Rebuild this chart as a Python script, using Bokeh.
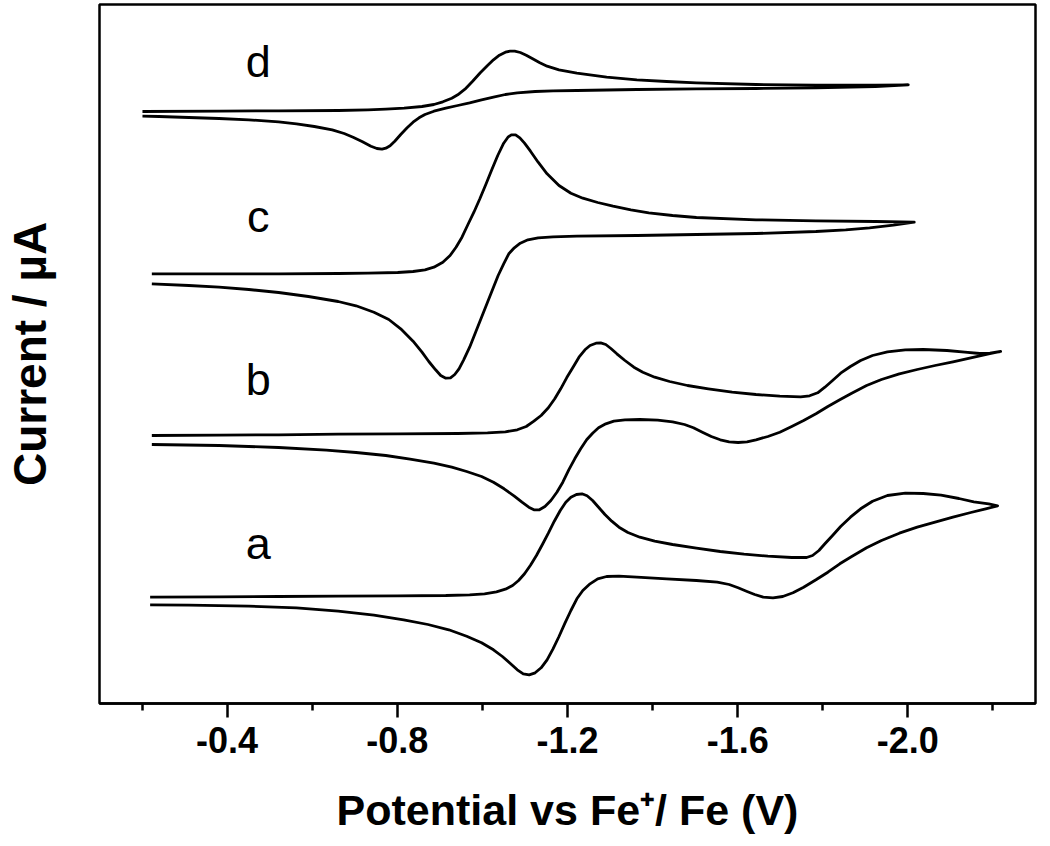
from bokeh.plotting import figure
from bokeh.models import Range1d, FixedTicker, CustomJSTickFormatter, ColumnDataSource
from bokeh.core.properties import value
from bokeh.embed import file_html
from bokeh.resources import INLINE

# ---- data: potential (V vs Fe+/Fe) and current (arbitrary, offset per trace) ----
a_potential = [-0.219, -0.381, -0.521, -0.661, -0.801, -0.914, -0.970, -1.005, -1.033, -1.054, -1.071, -1.085,
               -1.099, -1.113, -1.127, -1.141, -1.155, -1.169, -1.183, -1.196, -1.208, -1.221, -1.234, -1.246,
               -1.259, -1.273, -1.288, -1.304, -1.321, -1.342, -1.370, -1.405, -1.447, -1.503, -1.559, -1.615,
               -1.671, -1.727, -1.762, -1.776, -1.791, -1.805, -1.823, -1.842, -1.865, -1.889, -1.917, -1.952,
               -1.994, -2.036, -2.078, -2.120, -2.155, -2.190, -2.211,
               -2.183, -2.148, -2.106, -2.064, -2.022, -1.980, -1.938, -1.903, -1.868, -1.840, -1.812, -1.784,
               -1.755, -1.730, -1.706, -1.683, -1.660, -1.640, -1.622, -1.601, -1.580, -1.552, -1.503, -1.433,
               -1.363, -1.321, -1.292, -1.271, -1.253, -1.236, -1.222, -1.208, -1.194, -1.180, -1.166, -1.152,
               -1.138, -1.124, -1.110, -1.096, -1.082, -1.065, -1.047, -1.026, -0.998, -0.963, -0.921, -0.872,
               -0.815, -0.745, -0.661, -0.563, -0.451, -0.310, -0.219]
a_current = [10.63, 10.67, 10.70, 10.73, 10.77, 10.80, 10.87, 10.97, 11.17, 11.43, 11.80, 12.30,
             12.97, 13.83, 14.80, 15.90, 17.03, 18.23, 19.30, 20.13, 20.63, 20.90, 20.97, 20.77,
             20.30, 19.63, 18.90, 18.23, 17.63, 17.10, 16.63, 16.23, 15.90, 15.53, 15.20, 14.93,
             14.73, 14.60, 14.60, 14.80, 15.30, 15.97, 16.80, 17.70, 18.63, 19.47, 20.23, 20.80,
             21.03, 21.00, 20.83, 20.50, 20.17, 19.97, 19.77,
             19.47, 19.10, 18.63, 18.13, 17.63, 17.03, 16.30, 15.57, 14.70, 13.97, 13.13, 12.37,
             11.63, 11.07, 10.70, 10.57, 10.63, 10.90, 11.20, 11.57, 11.90, 12.13, 12.30, 12.47,
             12.63, 12.73, 12.70, 12.47, 11.97, 11.30, 10.47, 9.30, 8.03, 6.70, 5.47, 4.37,
             3.57, 3.07, 2.87, 2.97, 3.37, 4.03, 4.70, 5.37, 6.07, 6.73, 7.37, 7.90,
             8.37, 8.83, 9.23, 9.57, 9.73, 9.83, 9.87]

b_potential = [-0.223, -0.381, -0.521, -0.661, -0.801, -0.942, -1.012, -1.054, -1.082, -1.103, -1.121, -1.138,
               -1.155, -1.170, -1.184, -1.198, -1.213, -1.227, -1.241, -1.253, -1.267, -1.278, -1.290, -1.302,
               -1.316, -1.335, -1.356, -1.377, -1.405, -1.440, -1.482, -1.531, -1.587, -1.643, -1.699, -1.748,
               -1.769, -1.788, -1.805, -1.823, -1.842, -1.865, -1.889, -1.917, -1.952, -1.994, -2.036, -2.092,
               -2.134, -2.169, -2.193, -2.218,
               -2.190, -2.148, -2.106, -2.064, -2.022, -1.980, -1.938, -1.903, -1.868, -1.840, -1.812, -1.784,
               -1.755, -1.727, -1.699, -1.671, -1.643, -1.622, -1.601, -1.580, -1.559, -1.538, -1.517, -1.496,
               -1.475, -1.447, -1.412, -1.370, -1.335, -1.309, -1.290, -1.273, -1.259, -1.245, -1.231, -1.217,
               -1.203, -1.189, -1.175, -1.161, -1.147, -1.134, -1.121, -1.109, -1.093, -1.075, -1.051, -1.026,
               -0.998, -0.963, -0.928, -0.886, -0.830, -0.773, -0.703, -0.633, -0.521, -0.381, -0.223]
b_current = [26.80, 26.83, 26.87, 26.93, 26.97, 27.00, 27.07, 27.17, 27.37, 27.70, 28.23, 28.80,
             29.57, 30.47, 31.47, 32.57, 33.63, 34.63, 35.37, 35.80, 36.03, 36.07, 35.90, 35.50,
             34.97, 34.30, 33.63, 33.13, 32.63, 32.20, 31.80, 31.47, 31.13, 30.90, 30.73, 30.67,
             30.77, 31.07, 31.63, 32.30, 33.03, 33.70, 34.30, 34.80, 35.17, 35.37, 35.40, 35.30,
             35.13, 35.00, 35.03, 35.20,
             34.97, 34.57, 34.17, 33.80, 33.40, 32.97, 32.40, 31.80, 31.03, 30.37, 29.70, 28.97,
             28.30, 27.70, 27.13, 26.70, 26.37, 26.17, 26.10, 26.17, 26.37, 26.70, 27.13, 27.57,
             27.90, 28.17, 28.33, 28.40, 28.37, 28.23, 27.97, 27.57, 27.03, 26.37, 25.47, 24.47,
             23.37, 22.13, 21.13, 20.30, 19.70, 19.37, 19.37, 19.63, 20.13, 20.73, 21.47, 22.13,
             22.70, 23.20, 23.63, 24.03, 24.43, 24.80, 25.10, 25.33, 25.60, 25.80, 25.90]

c_potential = [-0.223, -0.381, -0.521, -0.661, -0.731, -0.801, -0.837, -0.865, -0.886, -0.907, -0.924, -0.938,
               -0.952, -0.966, -0.980, -0.994, -1.008, -1.022, -1.036, -1.050, -1.060, -1.068, -1.078, -1.088,
               -1.099, -1.113, -1.131, -1.152, -1.180, -1.208, -1.236, -1.271, -1.307, -1.349, -1.391, -1.447,
               -1.503, -1.643, -1.784, -1.924, -2.015,
               -1.966, -1.910, -1.854, -1.784, -1.643, -1.503, -1.363, -1.222, -1.166, -1.131, -1.107, -1.089,
               -1.075, -1.062, -1.050, -1.037, -1.026, -1.012, -0.998, -0.984, -0.970, -0.956, -0.945, -0.935,
               -0.925, -0.914, -0.902, -0.890, -0.874, -0.858, -0.837, -0.808, -0.780, -0.745, -0.703, -0.661,
               -0.591, -0.521, -0.451, -0.381, -0.310, -0.223]
c_current = [42.97, 42.97, 42.97, 43.00, 43.03, 43.10, 43.20, 43.37, 43.63, 44.13, 44.80, 45.63,
             46.63, 47.90, 49.13, 50.47, 51.90, 53.37, 54.80, 56.03, 56.63, 56.87, 56.87, 56.57,
             56.03, 55.23, 54.13, 52.97, 51.80, 51.03, 50.53, 50.10, 49.73, 49.37, 49.07, 48.80,
             48.60, 48.37, 48.27, 48.20, 48.13,
             47.83, 47.57, 47.37, 47.20, 47.00, 46.90, 46.80, 46.73, 46.67, 46.57, 46.37, 46.03,
             45.57, 44.97, 43.97, 42.80, 41.63, 40.13, 38.63, 37.13, 35.63, 34.37, 33.47, 32.90,
             32.57, 32.53, 32.80, 33.37, 34.20, 35.13, 36.23, 37.47, 38.40, 39.13, 39.77, 40.20,
             40.70, 41.10, 41.40, 41.63, 41.80, 41.97]

d_potential = [-0.201, -0.381, -0.521, -0.661, -0.731, -0.773, -0.816, -0.858, -0.886, -0.907, -0.928, -0.942,
               -0.959, -0.977, -0.995, -1.012, -1.026, -1.040, -1.054, -1.065, -1.076, -1.089, -1.103, -1.117,
               -1.135, -1.152, -1.180, -1.222, -1.292, -1.363, -1.433, -1.503, -1.643, -1.784, -1.924, -2.001,
               -1.924, -1.784, -1.643, -1.503, -1.363, -1.222, -1.166, -1.124, -1.082, -1.054, -1.026, -0.998,
               -0.970, -0.942, -0.914, -0.886, -0.865, -0.851, -0.837, -0.823, -0.808, -0.794, -0.783, -0.773,
               -0.764, -0.752, -0.738, -0.717, -0.696, -0.675, -0.647, -0.605, -0.563, -0.521, -0.451, -0.381,
               -0.310, -0.240, -0.201]
d_current = [59.20, 59.23, 59.27, 59.30, 59.37, 59.43, 59.53, 59.70, 59.90, 60.17, 60.53, 60.87,
             61.43, 62.23, 63.07, 63.80, 64.37, 64.83, 65.13, 65.23, 65.23, 65.10, 64.83, 64.50,
             64.07, 63.73, 63.37, 63.03, 62.63, 62.37, 62.20, 62.07, 61.90, 61.83, 61.83, 61.87,
             61.70, 61.57, 61.50, 61.47, 61.40, 61.30, 61.27, 61.20, 61.07, 60.90, 60.63, 60.37,
             60.07, 59.80, 59.53, 59.23, 58.90, 58.57, 58.13, 57.57, 56.90, 56.23, 55.77, 55.53,
             55.43, 55.50, 55.73, 56.20, 56.63, 57.00, 57.37, 57.70, 57.97, 58.17, 58.37, 58.50,
             58.60, 58.70, 58.73]

curve_names = ["a", "b", "c", "d"]
label_potential = [-0.473, -0.473, -0.473, -0.473]
label_current = [16.0, 32.4, 48.7, 64.2]

x_major_ticks = [-0.4, -0.8, -1.2, -1.6, -2.0]
x_minor_ticks = [-0.2, -0.6, -1.0, -1.4, -1.8, -2.2]

# ---- figure ----
p = figure(width=1038, height=836, output_backend="svg", toolbar_location=None,
           x_range=Range1d(-0.1, -2.3), y_range=Range1d(0, 69.9),
           min_border_left=92, min_border_right=3, min_border_top=4, min_border_bottom=133)
p.grid.visible = False
p.background_fill_color = "white"
p.border_fill_color = "white"
p.outline_line_color = "black"
p.outline_line_width = 2.5

for xs, ys in [(a_potential, a_current), (b_potential, b_current),
               (c_potential, c_current), (d_potential, d_current)]:
    p.line(xs, ys, line_color="black", line_width=2.8, line_join="round")

src = ColumnDataSource(dict(x=label_potential, y=label_current, t=curve_names))
p.text(x="x", y="y", text="t", source=src, text_font=value("Liberation Sans"),
       text_font_size="45px", text_align="center", text_baseline="alphabetic", text_color="black")

xa = p.xaxis[0]
xa.ticker = FixedTicker(ticks=x_major_ticks, minor_ticks=x_minor_ticks)
xa.formatter = CustomJSTickFormatter(code="return tick.toFixed(1);")
xa.axis_line_color = "black"
xa.axis_line_width = 2.5
xa.major_tick_line_color = "black"
xa.minor_tick_line_color = "black"
xa.major_tick_line_width = 2.5
xa.minor_tick_line_width = 2.5
xa.major_tick_in = 0
xa.major_tick_out = 14
xa.minor_tick_in = 0
xa.minor_tick_out = 7
xa.major_label_text_color = "black"
xa.major_label_text_font = "Liberation Sans"
xa.major_label_text_font_style = "bold"
xa.major_label_text_font_size = "36px"
xa.major_label_standoff = 9
xa.axis_label = "Potential vs Fe\u207a/ Fe (V)"
xa.axis_label_text_color = "black"
xa.axis_label_text_font = "Liberation Sans"
xa.axis_label_text_font_style = "bold"
xa.axis_label_text_font_size = "43px"
xa.axis_label_standoff = 30

ya = p.yaxis[0]
ya.ticker = FixedTicker(ticks=[])
ya.axis_line_color = None
ya.major_tick_out = 0
ya.major_tick_in = 0
ya.minor_tick_out = 0
ya.minor_tick_in = 0
ya.major_label_standoff = 0
ya.axis_label = "Current / \u00b5A"
ya.axis_label_text_color = "black"
ya.axis_label_text_font = "Liberation Sans"
ya.axis_label_text_font_style = "bold"
ya.axis_label_text_font_size = "46px"
ya.axis_label_standoff = 44

open("out.html", "w").write(file_html(p, INLINE))
